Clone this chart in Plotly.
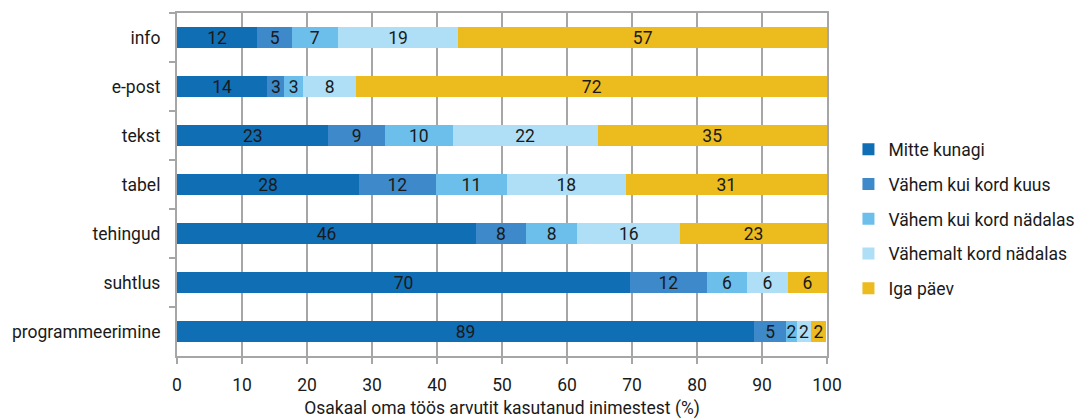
import plotly.graph_objects as go

categories = ["info", "e-post", "tekst", "tabel", "tehingud", "suhtlus", "programmeerimine"]
series_names = ["Mitte kunagi", "Vähem kui kord kuus", "Vähem kui kord nädalas",
                "Vähemalt kord nädalas", "Iga päev"]
mitte_kunagi = [12.35, 13.9, 23.3, 28.0, 46.0, 69.7, 88.8]
vahem_kuus = [5.35, 2.6, 8.7, 11.8, 7.7, 11.8, 4.9]
vahem_nadalas = [7.0, 2.9, 10.4, 11.0, 7.9, 6.2, 1.7]
vahemalt_nadalas = [18.6, 8.2, 22.3, 18.2, 15.8, 6.3, 2.1]
iga_paev = [56.7, 72.4, 35.3, 31.0, 22.6, 6.0, 2.4]
x_ticks = [0, 10, 20, 30, 40, 50, 60, 70, 80, 90, 100]
x_title = "Osakaal oma töös arvutit kasutanud inimestest (%)"

series_values = [mitte_kunagi, vahem_kuus, vahem_nadalas, vahemalt_nadalas, iga_paev]
colors = ["#106eb5", "#3d89c9", "#6cbfeb", "#aedff6", "#ecbb1e"]

FONT = "Roboto"
FS = 17.5
fig = go.Figure()
for i, (name, vals, col) in enumerate(zip(series_names, series_values, colors)):
    fig.add_trace(go.Bar(
        y=categories, x=vals, name=name, orientation="h",
        marker=dict(color=col, line=dict(width=0)),
        texttemplate="%{x:.0f}", textposition="inside", insidetextanchor="middle",
        textangle=0,
        textfont=dict(family=FONT, size=FS, color="#1a1a1a"),
        legendgroup=f"g{i}", hoverinfo="skip",
    ))

# The page body has an 8px default margin, so the figure is offset by 8px;
# the figure is made wider than the window so the legend never pushes the margins.
fig.update_layout(
    barmode="stack", bargap=0.59,
    width=1110, height=411,
    margin=dict(l=169, r=291, t=5, b=63),
    plot_bgcolor="white", paper_bgcolor="white",
    font=dict(family=FONT, size=FS, color="#1a1a1a"),
    uniformtext=dict(minsize=FS, mode="show"),
    legend=dict(x=1.033, xanchor="left", y=0.4, yanchor="middle",
                font=dict(family=FONT, size=FS, color="#1a1a1a"),
                tracegroupgap=9, itemwidth=30, bgcolor="rgba(0,0,0,0)"),
    xaxis=dict(range=[0, 100], tickvals=x_ticks, ticks="outside", ticklen=6,
               tickcolor="#a6a6a6", tickwidth=1.5, automargin=False,
               ticklabelstandoff=6,
               showgrid=True, gridcolor="#a6a6a6", gridwidth=1.5,
               showline=True, linecolor="#a6a6a6", linewidth=1.5, mirror=True,
               zeroline=False,
               title=dict(text=x_title, font=dict(family=FONT, size=FS), standoff=12),
               tickfont=dict(family=FONT, size=FS)),
    yaxis=dict(autorange="reversed", ticks="outside", tickson="boundaries", ticklen=6,
               tickcolor="#a6a6a6", tickwidth=1.5, automargin=False,
               ticklabelstandoff=7,
               showline=True, linecolor="#a6a6a6", linewidth=1.5, mirror=True,
               showgrid=False, tickfont=dict(family=FONT, size=FS), ticksuffix=" "),
)

fig.write_html("out.html")
